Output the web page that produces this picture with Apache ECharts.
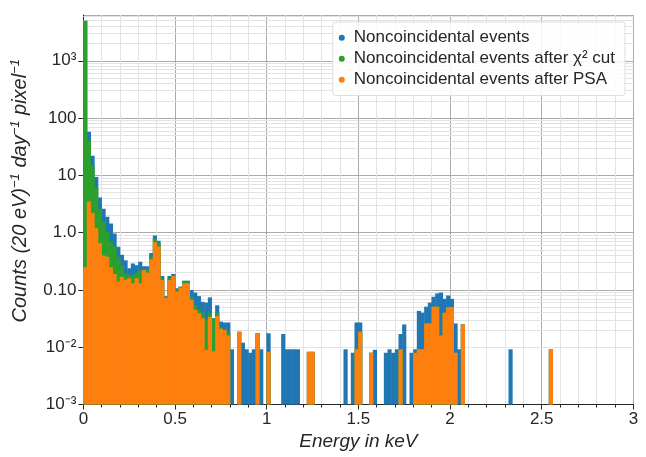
<!DOCTYPE html>
<html>
<head>
<meta charset="utf-8">
<script src="https://cdn.jsdelivr.net/npm/echarts@6/dist/echarts.min.js"></script>
<style>
  html, body { margin: 0; padding: 0; background: #fff; }
  #chart { width: 646px; height: 457px; }
</style>
</head>
<body>
<div id="chart"></div>
<script>
// bins of 20 eV, starting at 0 keV
var binWidth = 0.02;

var seriesNames = [
  'Noncoincidental events',
  'Noncoincidental events after \u03c7\u00b2 cut',
  'Noncoincidental events after PSA'
];
var seriesColors = ['#1f77b4', '#2ca02c', '#ff7f0e'];

// counts per (20 eV) day pixel (0 = empty bin)
var countsAll = [
  5000, 58, 22, 9.4, 4.1, 2.6, 1.9, 1.45, 0.97, 0.57,
  0.41, 0.33, 0.24, 0.29, 0.27, 0.31, 0.26, 0.26, 0.44, 0.89,
  0.72, 0.175, 0.078, 0.175, 0.19, 0.107, 0.115, 0.145, 0.145, 0.1,
  0.09, 0.078, 0.062, 0.06, 0.074, 0.032, 0.054, 0.028, 0.027, 0.027,
  0.0092, 0, 0.0186, 0.012, 0.0092, 0.008, 0.0092, 0.0175, 0.0092, 0,
  0.0175, 0, 0, 0, 0.017, 0.0092, 0.0092, 0.0092, 0.0092, 0,
  0, 0.0083, 0.0083, 0, 0, 0, 0, 0, 0, 0,
  0, 0.0092, 0, 0.008, 0.027, 0.027, 0, 0, 0.008, 0.009,
  0, 0, 0.008, 0.0092, 0.008, 0.0092, 0.017, 0.025, 0, 0.008,
  0.0092, 0.043, 0.04, 0.051, 0.06, 0.076, 0.087, 0.09, 0.07, 0.08,
  0.07, 0.026, 0.0092, 0.025, 0, 0, 0, 0, 0, 0,
  0, 0, 0, 0, 0, 0, 0.0092, 0, 0, 0,
  0, 0, 0, 0, 0, 0, 0, 0.0092
];

var countsChi2 = [
  5000, 41, 15, 6.3, 2.6, 1.55, 1.04, 0.69, 0.57, 0.38,
  0.27, 0.19, 0.185, 0.18, 0.2, 0.22, 0.23, 0.23, 0.38, 0.78,
  0.65, 0.16, 0.075, 0.16, 0.18, 0.1, 0.11, 0.14, 0.14, 0.075,
  0.055, 0.045, 0.04, 0.03, 0.04, 0.032, 0.04, 0.022, 0.02, 0.018,
  0, 0, 0.0186, 0, 0, 0, 0, 0.0175, 0, 0,
  0.0083, 0, 0, 0, 0, 0, 0, 0, 0, 0,
  0, 0.0083, 0.0083, 0, 0, 0, 0, 0, 0, 0,
  0, 0, 0, 0, 0.0092, 0.0186, 0, 0, 0.008, 0,
  0, 0, 0, 0, 0, 0, 0.0092, 0, 0, 0,
  0.008, 0.0092, 0.0092, 0.026, 0.026, 0.051, 0.051, 0.016, 0.04, 0.05,
  0.05, 0.008, 0, 0.025, 0, 0, 0, 0, 0, 0,
  0, 0, 0, 0, 0, 0, 0, 0, 0, 0,
  0, 0, 0, 0, 0, 0, 0, 0.0092
];

var countsPSA = [
  0.25, 3.5, 2.2, 1.2, 0.65, 0.4, 0.38, 0.25, 0.19, 0.14,
  0.17, 0.15, 0.16, 0.13, 0.16, 0.13, 0.22, 0.2, 0.34, 0.69,
  0.57, 0.148, 0.072, 0.148, 0.175, 0.093, 0.11, 0.13, 0.13, 0.067,
  0.045, 0.039, 0.032, 0.009, 0.034, 0.0085, 0.035, 0.021, 0.02, 0.016,
  0, 0, 0.0186, 0, 0, 0, 0, 0.0175, 0, 0,
  0.0083, 0, 0, 0, 0, 0, 0, 0, 0, 0,
  0, 0.0083, 0.0083, 0, 0, 0, 0, 0, 0, 0,
  0, 0, 0, 0, 0.0092, 0.0186, 0, 0, 0.008, 0,
  0, 0, 0, 0, 0, 0, 0.0092, 0, 0, 0,
  0.008, 0.0092, 0.0092, 0.026, 0.026, 0.051, 0.051, 0.016, 0.04, 0.05,
  0.05, 0.008, 0, 0.025, 0, 0, 0, 0, 0, 0,
  0, 0, 0, 0, 0, 0, 0, 0, 0, 0,
  0, 0, 0, 0, 0, 0, 0, 0.0092
];

// y tick labels by decade
var yTickExp = [-3, -2, -1, 0, 1, 2, 3];
var yTickLabels = ['10\u207b\u00b3', '10\u207b\u00b2', '0.10', '1.0', '10', '100', '10\u00b3'];

var xMin = 0, xMax = 3, yMin = 0.001, yMax = 6300;

var gridBox = { left: 83.4, right: 12.6, top: 15, bottom: 52.5 };
var chartWidth = 646;
var nBins = Math.round((xMax - xMin) / binWidth);
var barPx = (chartWidth - gridBox.left - gridBox.right) / nBins;

function toPoints(arr) {
  return arr.map(function (v, i) {
    return [xMin + (i + 0.5) * binWidth, v > 0 ? v : '-'];
  });
}

// minor log grid lines at 2..9 x 10^k (matplotlib style)
var minorLines = [];
for (var k = -3; k <= 3; k++) {
  for (var m = 2; m <= 9; m++) {
    var v = m * Math.pow(10, k);
    if (v < yMax) minorLines.push({ yAxis: v });
  }
}

var axisFont = 'Liberation Sans, Arial, sans-serif';
var ink = '#262626';

var myChart = echarts.init(document.getElementById('chart'), null, { renderer: 'canvas' });

function barSeries(idx, arr) {
  return {
    name: seriesNames[idx],
    type: 'bar',
    data: toPoints(arr),
    barWidth: barPx + 0.5,   // a little overlap, so no seams between bins
    barGap: '-100%',
    itemStyle: { color: seriesColors[idx] },
    emphasis: { disabled: true },
    z: 2 + idx
  };
}

var series = [barSeries(0, countsAll), barSeries(1, countsChi2), barSeries(2, countsPSA)];
series[0].markLine = {
  silent: true,
  z: 1,
  symbol: 'none',
  label: { show: false },
  lineStyle: { color: '#e3e3e3', width: 1, type: 'solid' },
  emphasis: { disabled: true },
  data: minorLines,
  animation: false
};

var supStyle = { fontSize: 13, fontStyle: 'italic', color: ink, fontFamily: axisFont, verticalAlign: 'top', lineHeight: 24 };

var option = {
  animation: false,
  backgroundColor: '#ffffff',
  textStyle: { fontFamily: axisFont },
  grid: gridBox,
  legend: {
    orient: 'vertical',
    right: 21,
    top: 22,
    padding: [6, 10, 6, 6],
    itemGap: 1.5,
    itemWidth: 14,
    itemHeight: 6,
    icon: 'circle',
    backgroundColor: 'rgba(255,255,255,0.85)',
    borderColor: '#dddddd',
    borderWidth: 1,
    borderRadius: 3,
    textStyle: { fontSize: 17, color: ink, fontFamily: axisFont, lineHeight: 19.5 },
    data: seriesNames
  },
  xAxis: {
    type: 'value',
    min: xMin,
    max: xMax,
    interval: 0.5,
    name: 'Energy in keV',
    nameLocation: 'middle',
    nameGap: 25,
    nameTextStyle: { fontSize: 19, fontStyle: 'italic', color: ink, fontFamily: axisFont },
    axisLine: { show: true, lineStyle: { color: ink, width: 1 } },
    axisTick: { show: true, length: 5, lineStyle: { color: ink } },
    minorTick: { show: true, splitNumber: 5, length: 3, lineStyle: { color: ink } },
    axisLabel: { fontSize: 17, color: ink, margin: 6, formatter: function (v) { return String(v); } },
    splitLine: { show: true, lineStyle: { color: '#aaaaaa', width: 1 } },
    minorSplitLine: { show: true, lineStyle: { color: '#e3e3e3', width: 1 } }
  },
  yAxis: {
    type: 'log',
    logBase: 10,
    min: yMin,
    max: yMax,
    startValue: yMin,
    splitNumber: 7,
    name: 'Counts (20 eV){s|\u22121} day{s|\u22121} pixel{s|\u22121}',
    nameLocation: 'middle',
    nameGap: 44,
    nameTextStyle: {
      fontSize: 20, fontStyle: 'italic', color: ink, fontFamily: axisFont, lineHeight: 24,
      padding: [0, 0, 0, 38],
      rich: { s: supStyle }
    },
    axisLine: { show: true, lineStyle: { color: ink, width: 1 } },
    axisTick: { show: true, length: 5, lineStyle: { color: ink } },
    axisLabel: {
      fontSize: 17,
      color: ink,
      margin: 7,
      showMaxLabel: false,
      formatter: function (v) {
        var e = Math.round(Math.log10(v));
        if (Math.abs(Math.log10(v) - e) > 1e-6) return '';
        var i = yTickExp.indexOf(e);
        return i >= 0 ? yTickLabels[i] : '';
      }
    },
    splitLine: { show: true, lineStyle: { color: '#aaaaaa', width: 1 } }
  },
  series: series
};

myChart.setOption(option);
</script>
</body>
</html>
